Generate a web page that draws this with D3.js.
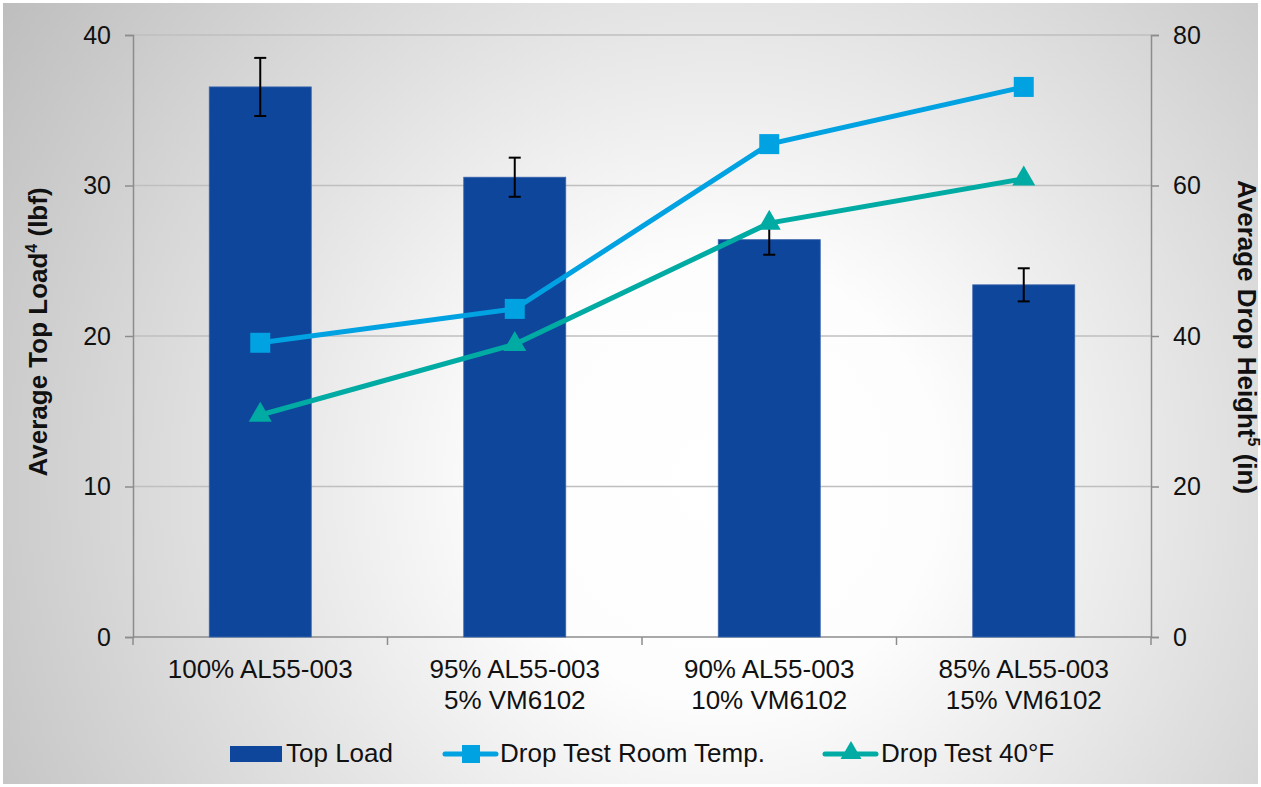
<!DOCTYPE html>
<html><head><meta charset="utf-8">
<script src="https://cdn.jsdelivr.net/npm/d3@7"></script>
<style>body{margin:0;background:#fff;}svg{display:block;font-family:"Liberation Sans",Arial,sans-serif;}</style>
</head><body><svg id="c" width="1261" height="787"></svg>
<script>
const categories = [["100% AL55-003"],["95% AL55-003","5% VM6102"],["90% AL55-003","10% VM6102"],["85% AL55-003","15% VM6102"]];
const topLoad = [36.55, 30.55, 26.4, 23.4];
const topLoadErr = [1.93, 1.3, 1.0, 1.1];
const dropRoom = [39.1, 43.6, 65.5, 73.1];
const drop40F = [29.5, 38.9, 55.0, 60.9];
const leftTicks = [0,10,20,30,40];
const rightTicks = [0,20,40,60,80];

const svg = d3.select("#c");
const defs = svg.append("defs");
const rg = defs.append("radialGradient").attr("id","bg").attr("gradientUnits","userSpaceOnUse")
  .attr("cx",720).attr("cy",480).attr("r",880);
rg.append("stop").attr("offset","0%").attr("stop-color","#ffffff");
rg.append("stop").attr("offset","25%").attr("stop-color","#fdfdfd");
rg.append("stop").attr("offset","100%").attr("stop-color","#bcbcbc");
svg.append("rect").attr("x",3).attr("y",3).attr("width",1255).attr("height",781).attr("fill","url(#bg)");

const L=133, R=1151, T=35, B=637;
const x = d3.scaleBand().domain(d3.range(categories.length)).range([L,R]).paddingInner(0).paddingOuter(0);
const yL = d3.scaleLinear().domain([0,40]).range([B,T]);
const yR = d3.scaleLinear().domain([0,80]).range([B,T]);
const barW = 102;
const FS = 25;

// gridlines
svg.append("g").selectAll("line").data(leftTicks.slice(1)).join("line")
  .attr("x1",L).attr("x2",R).attr("y1",d=>yL(d)).attr("y2",d=>yL(d))
  .attr("stroke","#bfbfbf").attr("stroke-width",1.5);

// axes
const axL = svg.append("g").attr("transform",`translate(${L},0)`).call(d3.axisLeft(yL).tickValues(leftTicks).tickSize(8).tickPadding(14));
const axR = svg.append("g").attr("transform",`translate(${R},0)`).call(d3.axisRight(yR).tickValues(rightTicks).tickSize(8).tickPadding(14));
[axL,axR].forEach(a=>{
  a.select(".domain").attr("stroke","#8c8c8c").attr("stroke-width",1.5);
  a.selectAll(".tick line").attr("stroke","#8c8c8c").attr("stroke-width",1.5);
  a.selectAll(".tick text").attr("font-size",FS).attr("fill","#111").attr("font-family","Liberation Sans, Arial, sans-serif");
});
// bottom axis
svg.append("line").attr("x1",L).attr("x2",R).attr("y1",B).attr("y2",B).attr("stroke","#8c8c8c").attr("stroke-width",1.5);
const bounds = d3.range(categories.length+1).map(i=> i<categories.length ? x(i) : R);
svg.append("g").selectAll("line").data(bounds).join("line")
  .attr("x1",d=>d).attr("x2",d=>d).attr("y1",B).attr("y2",B+8).attr("stroke","#8c8c8c").attr("stroke-width",1.5);

// category labels
const cl = svg.append("g").selectAll("text").data(categories).join("text")
  .attr("text-anchor","middle").attr("font-size",26).attr("fill","#111")
  .attr("transform",(d,i)=>`translate(${x(i)+x.bandwidth()/2},678)`);
cl.selectAll("tspan").data(d=>d).join("tspan").attr("x",0).attr("dy",(d,i)=>i?31:0).text(d=>d);

// bars
svg.append("g").selectAll("rect").data(topLoad).join("rect")
  .attr("x",(d,i)=>x(i)+x.bandwidth()/2-barW/2).attr("width",barW)
  .attr("y",d=>yL(d)).attr("height",d=>B-yL(d))
  .attr("fill","#0e469c").attr("stroke","#3a64ad").attr("stroke-width",0.8);

// error bars
const eb = svg.append("g").selectAll("g").data(topLoad).join("g")
  .attr("transform",(d,i)=>`translate(${x(i)+x.bandwidth()/2},0)`);
eb.append("line").attr("y1",(d,i)=>yL(d+topLoadErr[i])).attr("y2",(d,i)=>yL(d-topLoadErr[i])).attr("stroke","#000").attr("stroke-width",2);
eb.append("line").attr("x1",-6).attr("x2",6).attr("y1",(d,i)=>yL(d+topLoadErr[i])).attr("y2",(d,i)=>yL(d+topLoadErr[i])).attr("stroke","#000").attr("stroke-width",2);
eb.append("line").attr("x1",-6).attr("x2",6).attr("y1",(d,i)=>yL(d-topLoadErr[i])).attr("y2",(d,i)=>yL(d-topLoadErr[i])).attr("stroke","#000").attr("stroke-width",2);

const cx = i => x(i)+x.bandwidth()/2;
const line = d3.line().x((d,i)=>cx(i)).y(d=>yR(d));
const cRoom = "#00a2e1", c40 = "#00aba3";
svg.append("path").attr("d",line(dropRoom)).attr("fill","none").attr("stroke",cRoom).attr("stroke-width",5);
svg.append("path").attr("d",line(drop40F)).attr("fill","none").attr("stroke",c40).attr("stroke-width",5);
svg.append("g").selectAll("rect").data(dropRoom).join("rect")
  .attr("x",(d,i)=>cx(i)-10).attr("y",d=>yR(d)-10).attr("width",20).attr("height",20).attr("fill",cRoom);
const tri = d3.symbol().type(d3.symbolTriangle).size(230);
svg.append("g").selectAll("path").data(drop40F).join("path")
  .attr("d",tri).attr("transform",(d,i)=>`translate(${cx(i)},${yR(d)})`).attr("fill",c40);

// axis titles
svg.append("text").attr("transform","translate(47,332) rotate(-90)").attr("text-anchor","middle")
  .attr("font-size",26).attr("font-weight","bold").attr("fill","#111")
  .html('Average Top Load<tspan font-size="16" dy="-10">4</tspan><tspan dy="10"> (lbf)</tspan>');
svg.append("text").attr("transform","translate(1238,337) rotate(90)").attr("text-anchor","middle")
  .attr("font-size",26).attr("font-weight","bold").attr("fill","#111")
  .html('Average Drop Height<tspan font-size="16" dy="-10">5</tspan><tspan dy="10"> (in)</tspan>');

// legend
const lg = svg.append("g").attr("font-size",26).attr("fill","#111");
lg.append("rect").attr("x",230).attr("y",746).attr("width",52).attr("height",16).attr("fill","#0e469c");
lg.append("text").attr("x",286).attr("y",762).text("Top Load");
lg.append("line").attr("x1",445).attr("x2",496).attr("y1",754).attr("y2",754).attr("stroke",cRoom).attr("stroke-width",5).attr("stroke-linecap","round");
lg.append("rect").attr("x",462).attr("y",745).attr("width",18).attr("height",18).attr("fill",cRoom);
lg.append("text").attr("x",500).attr("y",762).text("Drop Test Room Temp.");
lg.append("line").attr("x1",825).attr("x2",876).attr("y1",754).attr("y2",754).attr("stroke",c40).attr("stroke-width",5).attr("stroke-linecap","round");
lg.append("path").attr("d",d3.symbol().type(d3.symbolTriangle).size(190)).attr("transform","translate(851,753)").attr("fill",c40);
lg.append("text").attr("x",881).attr("y",762).text("Drop Test 40°F");
</script></body></html>
